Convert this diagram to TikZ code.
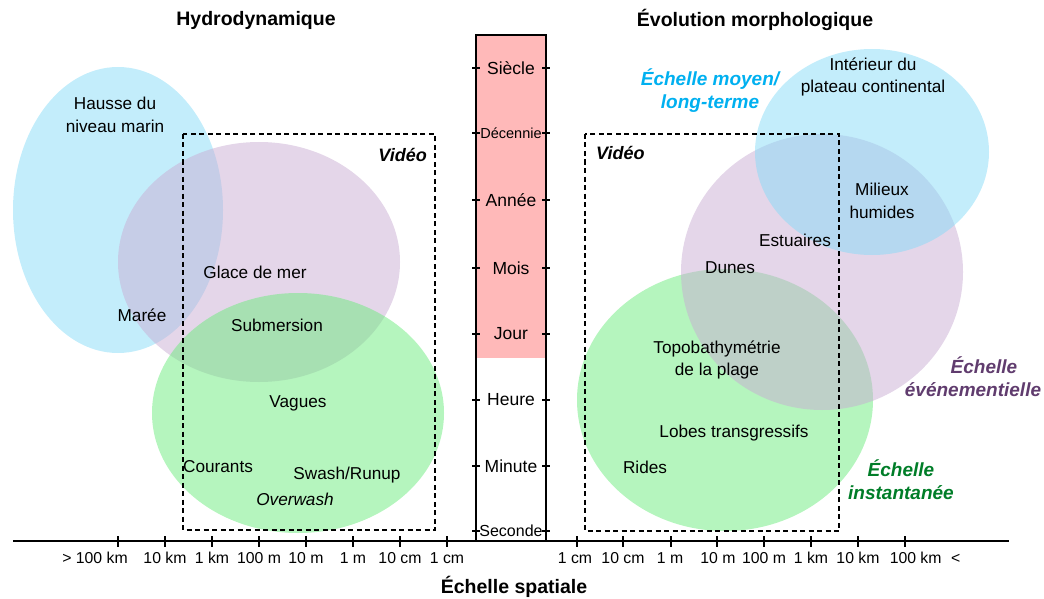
\documentclass[tikz,border=0pt]{standalone}
\usepackage{fontspec}
\setmainfont{Liberation Sans}
\definecolor{cblue}{RGB}{135,219,247}
\definecolor{cpurple}{RGB}{201,173,211}
\definecolor{cgreen}{RGB}{107,235,125}
\definecolor{cpink}{RGB}{255,185,185}
\definecolor{tblue}{RGB}{0,176,240}
\definecolor{tpurple}{RGB}{96,60,110}
\definecolor{tgreen}{RGB}{0,125,40}
\begin{document}
\begin{tikzpicture}[x=1pt,y=-1pt,
  lbl/.style={font=\fontsize{17.2}{22.5}\selectfont, align=center, inner sep=0pt},
  ttl/.style={font=\fontsize{19.5}{23}\selectfont\bfseries, inner sep=0pt},
  scalelbl/.style={font=\fontsize{19}{23}\selectfont\bfseries\itshape, align=center, inner sep=0pt},
  tlbl/.style={inner sep=0pt},
  axlbl/.style={font=\fontsize{15.8}{18}\selectfont, inner sep=0pt},
  blob/.style={fill opacity=0.5},
  videobox/.style={draw, line width=1.2pt, dash pattern=on 5pt off 3.5pt},
  vidlbl/.style={font=\fontsize{18}{22}\selectfont\bfseries\itshape, inner sep=0pt},
  tick/.style={line width=1.1pt}]
\useasboundingbox (0,0) rectangle (1044,599);

% titles
\node[ttl] (t1) at (256,20) {Hydrodynamique};
\node[ttl] (t2) at (755,20) {Évolution morphologique};

% left ellipses
\fill[cblue,blob] (118,210) ellipse [x radius=105pt, y radius=143pt];
\fill[cpurple,blob] (259,262) ellipse [x radius=141pt, y radius=120pt];
\fill[cgreen,blob] (298,413) ellipse [x radius=146pt, y radius=120pt];

% right ellipses
\fill[cgreen,blob] (725,400) ellipse [x radius=148pt, y radius=131pt];
\fill[cpurple,blob] (822,272) ellipse [x radius=141pt, y radius=138pt];
\fill[cblue,blob] (872,152) ellipse [x radius=117pt, y radius=103pt];

% video boxes
\draw[videobox] (183,134) rectangle (435,530);
\draw[videobox] (585,134) rectangle (839,531);
\node[vidlbl, anchor=east] (v1) at (427,155) {Vidéo};
\node[vidlbl, anchor=west] (v2) at (596,153) {Vidéo};

% left labels
\node[lbl] (hausse) at (115,115) {Hausse du\\niveau marin};
\node[lbl] (glace) at (255,272) {Glace de mer};
\node[lbl] (maree) at (142,315) {Marée};
\node[lbl] (subm) at (277,325) {Submersion};
\node[lbl] (vagues) at (298,403) {Vagues};
\node[lbl] (cour) at (218,467) {Courants};
\node[lbl] (swash) at (347,475) {Swash/Runup};
\node[lbl, font=\fontsize{17.2}{22.5}\selectfont\itshape] (overw) at (295,499) {Overwash};

% right labels
\node[lbl] (interieur) at (873,77) {Intérieur du\\plateau continental};
\node[lbl] (milieux) at (882,201) {Milieux\\humides};
\node[lbl] (estu) at (795,240) {Estuaires};
\node[lbl] (dunes) at (730,268) {Dunes};
\node[lbl] (topo) at (717,360) {Topobathymétrie\\de la plage};
\node[lbl] (lobes) at (734,433) {Lobes transgressifs};
\node[lbl] (rides) at (645,467) {Rides};

\node[scalelbl, text=tblue] (sml) at (710,91) {Échelle moyen/\\long-terme};
\node[scalelbl, text=tpurple] (sev) at (973,377) {\hspace*{22pt}Échelle\\événementielle};
\node[scalelbl, text=tgreen] (sin) at (901,480) {Échelle\\instantanée};

% time column
\fill[cpink] (476,35) rectangle (546,358);
\draw[line width=1.3pt] (476,541) -- (476,35) -- (546,35) -- (546,541);
\foreach \yy/\name/\fs in {68/Siècle/17.5, 133/Décennie/14.5, 200/Année/17.5, 268/Mois/17.5, 334/Jour/17.5, 400/Heure/17.5, 466/Minute/17.5, 531/Seconde/16}{
  \draw[tick] (472,\yy) -- (480,\yy);
  \draw[tick] (542,\yy) -- (550,\yy);
  \node[tlbl, font=\fontsize{\fs}{20}\selectfont] (time\yy) at (511,\yy) {\name};
}

% spatial axis
\draw[line width=1.3pt] (13,541) coordinate (axl) -- (1009,541) coordinate (axr);
\foreach \xx in {118,165,212,259,306,353,400,447,577,623,671,717,764,811,858,905}{
  \draw[tick] (\xx,536) -- (\xx,547);
}
\node[axlbl] (l1) at (95,558) {> 100 km};
\node[axlbl] (l2) at (165,558) {10 km};
\node[axlbl] (l3) at (212,558) {1 km};
\node[axlbl] (l4) at (259,558) {100 m};
\node[axlbl] (l5) at (306,558) {10 m};
\node[axlbl] (l6) at (353,558) {1 m};
\node[axlbl] (l7) at (400,558) {10 cm};
\node[axlbl] (l8) at (447,558) {1 cm};
\node[axlbl] (r1) at (575,558) {1 cm};
\node[axlbl] (r2) at (623,558) {10 cm};
\node[axlbl] (r3) at (670,558) {1 m};
\node[axlbl] (r4) at (718,558) {10 m};
\node[axlbl] (r5) at (764,558) {100 m};
\node[axlbl] (r6) at (811,558) {1 km};
\node[axlbl] (r7) at (858,558) {10 km};
\node[axlbl] (r8) at (925,558) {100 km\hspace{0.6em}<};

\node[ttl] (xtitle) at (514,587) {Échelle spatiale};
\end{tikzpicture}
\end{document}
